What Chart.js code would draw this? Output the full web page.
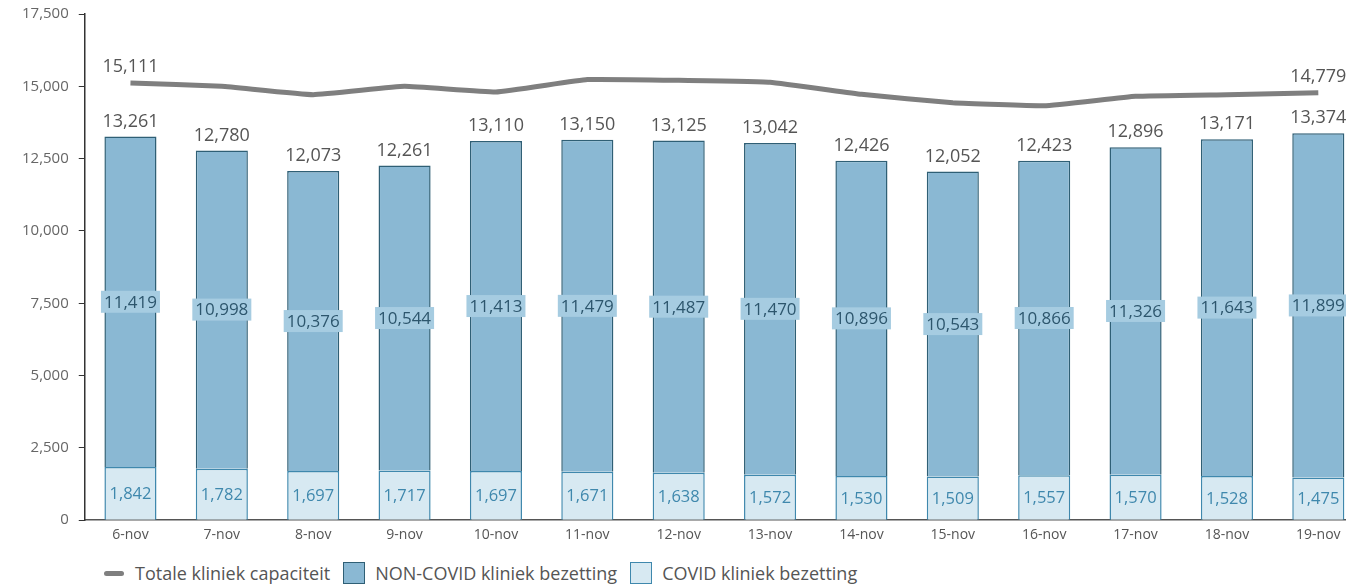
<!DOCTYPE html>
<html>
<head>
<meta charset="utf-8">
<script src="https://cdn.jsdelivr.net/npm/chart.js@4.4.1/dist/chart.umd.min.js"></script>
<style>
  html, body { margin: 0; padding: 0; background: #fff; overflow: hidden; }
  #wrap { position: relative; width: 1372px; height: 554px; margin-top: -5px; }
  #legend {
    position: absolute; left: 104px; top: 561px;
    font-family: "Open Sans", sans-serif; font-size: 18px; color: #555;
    display: flex; align-items: center; white-space: nowrap;
  }
  #legend .item { display: flex; align-items: center; margin-right: 13px; }
  #legend .line { width: 20px; height: 5px; background: #7f7f7f; border-radius: 3px; margin-right: 11px; }
  #legend .box { width: 22px; height: 22px; margin-right: 10px; box-sizing: border-box; }
</style>
</head>
<body>
<div id="wrap"><canvas id="chart"></canvas></div>
<div id="legend">
  <div class="item"><span class="line"></span>Totale kliniek capaciteit</div>
  <div class="item"><span class="box" style="background:#8ab8d3;border:1.5px solid #2f5f75"></span>NON-COVID kliniek bezetting</div>
  <div class="item"><span class="box" style="background:#d7e9f2;border:1.5px solid #3f88ad"></span>COVID kliniek bezetting</div>
</div>
<script>
/* Kliniek bezetting per dag */
const days = ['6-nov', '7-nov', '8-nov', '9-nov', '10-nov', '11-nov', '12-nov',
  '13-nov', '14-nov', '15-nov', '16-nov', '17-nov', '18-nov', '19-nov'];
const covid = [1842, 1782, 1697, 1717, 1697, 1671, 1638, 1572, 1530, 1509, 1557, 1570, 1528, 1475];
const nonCovid = [11419, 10998, 10376, 10544, 11413, 11479, 11487, 11470, 10896, 10543, 10866, 11326, 11643, 11899];
const capacity = [15111, 15000, 14711, 15000, 14803, 15232, 15208, 15139, 14722, 14433, 14329, 14653, 14711, 14779];
const yTicks = [0, 2500, 5000, 7500, 10000, 12500, 15000, 17500];

const FONT = '"Open Sans", sans-serif';
const fmt = v => v.toLocaleString('en-US');

// draws the value labels (no datalabels plugin available offline)
const valueLabels = {
  id: 'valueLabels',
  afterDatasetsDraw(chart) {
    const { ctx } = chart;
    const covidMeta = chart.getDatasetMeta(1);
    const nonMeta = chart.getDatasetMeta(2);
    const lineMeta = chart.getDatasetMeta(0);
    ctx.save();
    ctx.textAlign = 'center';

    days.forEach((d, i) => {
      // COVID segment
      const cb = covidMeta.data[i];
      ctx.font = '16.5px ' + FONT;
      ctx.fillStyle = '#3f88ad';
      ctx.textBaseline = 'middle';
      ctx.fillText(fmt(covid[i]), cb.x, (cb.y + cb.base) / 2 + 1);

      // NON-COVID segment, boxed
      const nb = nonMeta.data[i];
      const cy = (nb.y + nb.base) / 2;
      const txt = fmt(nonCovid[i]);
      ctx.font = '17px ' + FONT;
      const w = ctx.measureText(txt).width + 6;
      ctx.fillStyle = '#a6cce1';
      ctx.fillRect(nb.x - w / 2, cy - 11, w, 22);
      ctx.fillStyle = '#2d566d';
      ctx.fillText(txt, nb.x, cy + 1);

      // total on top
      ctx.font = '18px ' + FONT;
      ctx.fillStyle = '#555';
      ctx.textBaseline = 'bottom';
      ctx.fillText(fmt(covid[i] + nonCovid[i]), nb.x, nb.y - 6);
    });

    // capacity line: first and last only
    ctx.font = '18px ' + FONT;
    ctx.fillStyle = '#555';
    ctx.textBaseline = 'bottom';
    [0, capacity.length - 1].forEach(i => {
      const p = lineMeta.data[i];
      ctx.fillText(fmt(capacity[i]), p.x, p.y - 7);
    });
    ctx.restore();
  }
};

new Chart(document.getElementById('chart'), {
  data: {
    labels: days,
    datasets: [
      {
        type: 'line',
        label: 'Totale kliniek capaciteit',
        data: capacity,
        borderColor: '#7f7f7f',
        borderWidth: 5,
        pointRadius: 0,
        tension: 0.1,
        order: 0,
      },
      {
        type: 'bar',
        label: 'COVID kliniek bezetting',
        data: covid,
        backgroundColor: '#d7e9f2',
        borderColor: '#3f88ad',
        borderWidth: 1.5,
        categoryPercentage: 1,
        barPercentage: 0.57,
        stack: 's',
        order: 1,
      },
      {
        type: 'bar',
        label: 'NON-COVID kliniek bezetting',
        data: nonCovid,
        backgroundColor: '#8ab8d3',
        borderColor: '#2f5f75',
        borderWidth: 1.5,
        categoryPercentage: 1,
        barPercentage: 0.57,
        stack: 's',
        order: 2,
      },
    ]
  },
  options: {
    responsive: true,
    maintainAspectRatio: false,
    animation: false,
    layout: { padding: { top: 1, right: 8, left: 12, bottom: 0 } },
    plugins: {
      legend: { display: false },
      tooltip: { enabled: false },
    },
    scales: {
      x: {
        stacked: true,
        grid: { display: false, drawTicks: false },
        border: { color: '#555', width: 1.5 },
        ticks: { color: '#555', font: { family: FONT, size: 14 }, padding: 6, maxRotation: 0, autoSkip: false },
      },
      y: {
        stacked: true,
        min: 0,
        max: 17500,
        afterBuildTicks: axis => { axis.ticks = yTicks.map(v => ({ value: v })); },
        grid: { drawOnChartArea: false, tickLength: 6, color: '#333' },
        border: { color: '#333', width: 1.5 },
        ticks: { color: '#666', font: { family: FONT, size: 15 }, padding: 10, callback: v => fmt(v) },
      }
    }
  },
  plugins: [valueLabels]
});
</script>
</body>
</html>
